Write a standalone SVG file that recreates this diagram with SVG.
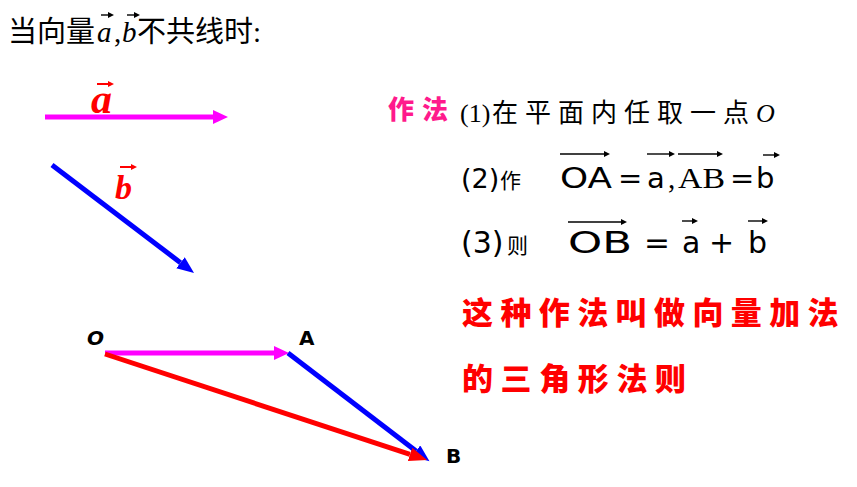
<svg xmlns="http://www.w3.org/2000/svg" width="857" height="487" viewBox="0 0 857 487">
<style>
.cjk{font-family:"Noto Sans CJK SC","Noto Sans",sans-serif}
.ser{font-family:"Liberation Serif","Noto Sans CJK SC",serif}
.san{font-family:"DejaVu Sans","Noto Sans CJK SC",sans-serif}
.brush{font-family:"Noto Sans CJK SC",sans-serif;font-weight:900}
.vec{stroke-width:5;fill:none}
.lbl{font-family:"DejaVu Sans",sans-serif;font-weight:bold;font-size:20px;fill:#000}
.ov{stroke:#000;stroke-width:1.4;fill:none}
</style>
<defs>
<marker id="hm" markerUnits="userSpaceOnUse" markerWidth="20" markerHeight="16" refX="0" refY="7" orient="auto"><path d="M0,0 L15,7 L0,14 z" fill="#ff00ff"/></marker>
<marker id="hb" markerUnits="userSpaceOnUse" markerWidth="20" markerHeight="16" refX="0" refY="7" orient="auto"><path d="M0,0 L17,7 L0,14 z" fill="#0000ff"/></marker>
<marker id="hr" markerUnits="userSpaceOnUse" markerWidth="22" markerHeight="16" refX="0" refY="7" orient="auto"><path d="M0,0 L18,7 L0,14 z" fill="#ff0000"/></marker>
<marker id="tk" markerUnits="userSpaceOnUse" markerWidth="8" markerHeight="6" refX="0" refY="3" orient="auto"><path d="M0,0 L6,3 L0,6 z" fill="#000"/></marker>
<marker id="tr" markerUnits="userSpaceOnUse" markerWidth="8" markerHeight="6" refX="0" refY="3" orient="auto"><path d="M0,0 L6,3 L0,6 z" fill="#ff0000"/></marker>
</defs>
<rect width="857" height="487" fill="#fff"/>

<g id="title">
<text y="42" font-size="29" fill="#000"><tspan class="ser" x="8">当向量</tspan><tspan class="ser" font-style="italic" x="97">a</tspan><tspan class="ser" x="114">,</tspan><tspan class="ser" font-style="italic" x="122">b</tspan><tspan class="ser" x="137">不共线时:</tspan></text>
<line class="ov" x1="101" y1="15" x2="108" y2="15" marker-end="url(#tk)"/>
<line class="ov" x1="127" y1="15" x2="134" y2="15" marker-end="url(#tk)"/>
</g>

<g id="vector-a">
<text class="ser" x="91" y="113" font-size="42" font-weight="bold" font-style="italic" fill="#ff0000">a</text>
<line x1="97" y1="84" x2="108" y2="84" stroke="#ff0000" stroke-width="2" marker-end="url(#tr)"/>
</g>
<g id="vector-b">
<text class="ser" x="115" y="199" font-size="34" font-weight="bold" font-style="italic" fill="#ff0000">b</text>
<line x1="120" y1="167" x2="131" y2="167" stroke="#ff0000" stroke-width="2" marker-end="url(#tr)"/>
</g>

<g id="method">
<text class="brush" x="388" y="119" font-size="26" letter-spacing="8" fill="#ff1a8c">作法</text>
<text y="122" font-size="26" fill="#000"><tspan class="ser" x="460">(1)</tspan><tspan class="ser" x="492" letter-spacing="7">在平面内任取一点</tspan><tspan class="ser" font-style="italic" letter-spacing="0">O</tspan></text>
</g>

<g id="step2">
<text y="188" font-size="29" fill="#000"><tspan class="san" x="461" font-size="27">(2)</tspan><tspan class="cjk" x="500" font-size="21">作</tspan><tspan class="san" x="560" textLength="52" lengthAdjust="spacingAndGlyphs">OA</tspan><tspan class="san" x="618">=</tspan><tspan class="san" x="647">a</tspan><tspan class="ser" x="668">,</tspan><tspan class="ser" x="678" textLength="47" lengthAdjust="spacingAndGlyphs">AB</tspan><tspan class="san" x="730">=</tspan><tspan class="san" x="756">b</tspan></text>
<line class="ov" x1="560" y1="154" x2="604" y2="154" marker-end="url(#tk)"/>
<line class="ov" x1="647" y1="154" x2="669" y2="154" marker-end="url(#tk)"/>
<line class="ov" x1="678" y1="154" x2="717" y2="154" marker-end="url(#tk)"/>
<line class="ov" x1="763" y1="155" x2="774" y2="155" marker-end="url(#tk)"/>
</g>

<g id="step3">
<text y="253" font-size="30" fill="#000"><tspan class="san" x="461">(3)</tspan><tspan class="cjk" x="507" font-size="21">则</tspan><tspan class="san" x="568" textLength="64" lengthAdjust="spacingAndGlyphs">OB</tspan><tspan class="san" x="644" textLength="26" lengthAdjust="spacingAndGlyphs">=</tspan><tspan class="san" x="682">a</tspan><tspan class="san" x="709">+</tspan><tspan class="san" x="748">b</tspan></text>
<line class="ov" x1="568" y1="222" x2="621" y2="222" marker-end="url(#tk)"/>
<line class="ov" x1="682" y1="221" x2="692" y2="221" marker-end="url(#tk)"/>
<line class="ov" x1="748" y1="221" x2="762" y2="221" marker-end="url(#tk)"/>
</g>

<g id="rule">
<text class="brush" x="462" y="324" font-size="31" letter-spacing="7.4" fill="#ff0000">这种作法叫做向量加法</text>
<text class="brush" x="462" y="390" font-size="31" letter-spacing="7.6" fill="#ff0000">的三角形法则</text>
</g>

<g id="node-O"><text class="lbl" x="87" y="345" font-style="italic">O</text></g>
<g id="node-A"><text class="lbl" x="299" y="345">A</text></g>
<g id="node-B"><text class="lbl" x="446" y="463">B</text></g>

<g id="connectors">
<line class="vec" stroke="#ff00ff" x1="45" y1="117" x2="213" y2="117" marker-end="url(#hm)"/>
<line class="vec" stroke="#0000ff" x1="52" y1="165" x2="180.5" y2="262.7" marker-end="url(#hb)"/>
<line class="vec" stroke="#ff00ff" x1="105" y1="353" x2="274" y2="353" marker-end="url(#hm)"/>
<line class="vec" stroke="#0000ff" x1="288" y1="353" x2="416" y2="451" marker-end="url(#hb)"/>
<line class="vec" stroke="#ff0000" x1="105" y1="354" x2="410" y2="454.4" marker-end="url(#hr)"/>
</g>
</svg>
